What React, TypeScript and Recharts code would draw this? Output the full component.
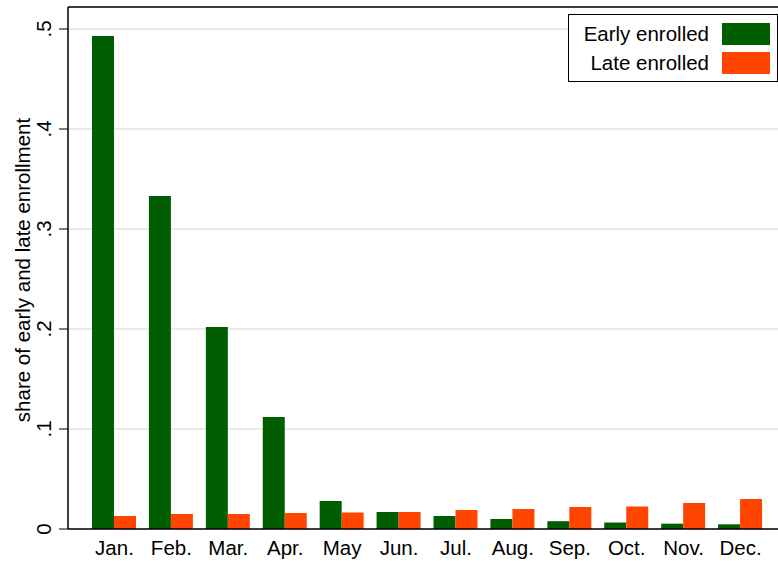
import React from 'react';
import {
  BarChart,
  Bar,
  XAxis,
  YAxis,
  CartesianGrid,
  Legend,
  ReferenceLine,
} from 'recharts';

// ---------------------------------------------------------------------------
// data
// ---------------------------------------------------------------------------
const months = ['Jan.', 'Feb.', 'Mar.', 'Apr.', 'May', 'Jun.', 'Jul.', 'Aug.', 'Sep.', 'Oct.', 'Nov.', 'Dec.'];
const earlyEnrolled = [0.493, 0.333, 0.202, 0.112, 0.028, 0.017, 0.013, 0.01, 0.0078, 0.0065, 0.0053, 0.0047];
const lateEnrolled = [0.013, 0.015, 0.015, 0.016, 0.0165, 0.017, 0.019, 0.02, 0.022, 0.0225, 0.026, 0.03];
const yTicks = [0, 0.1, 0.2, 0.3, 0.4, 0.5];
const yTickLabels = ['0', '.1', '.2', '.3', '.4', '.5'];

const series = [
  { key: 'early', name: 'Early enrolled', color: '#005e00' },
  { key: 'late', name: 'Late enrolled', color: '#ff4500' },
];

const data = months.map((m, i) => ({ month: m, early: earlyEnrolled[i], late: lateEnrolled[i] }));

const FONT = '"Liberation Sans", Arial, Helvetica, sans-serif';
const FS = 20.5;

const YTick = (props: any) => {
  const { y, payload } = props;
  const idx = yTicks.indexOf(payload.value);
  const x = 51;
  return (
    <text
      x={x}
      y={y}
      transform={`rotate(-90, ${x}, ${y})`}
      textAnchor="middle"
      fontSize={FS}
      fontFamily={FONT}
      fill="#000"
    >
      {idx >= 0 ? yTickLabels[idx] : payload.value}
    </text>
  );
};

const XTick = (props: any) => {
  const { x, payload } = props;
  return (
    <text x={x} y={555} textAnchor="middle" fontSize={FS} fontFamily={FONT} fill="#000">
      {payload.value}
    </text>
  );
};

const YLabel = () => (
  <text
    x={30}
    y={270}
    transform="rotate(-90, 30, 270)"
    textAnchor="middle"
    fontSize={FS}
    fontFamily={FONT}
    fill="#000"
  >
    share of early and late enrollment
  </text>
);

const LegendBox = () => (
  <div
    style={{
      width: 208,
      height: 66,
      border: '1px solid #000',
      background: '#fff',
      fontFamily: FONT,
      fontSize: FS,
      boxSizing: 'content-box',
    }}
  >
    {series.map((s, i) => (
      <div
        key={s.key}
        style={{
          display: 'flex',
          justifyContent: 'flex-end',
          alignItems: 'center',
          height: 22,
          marginTop: i === 0 ? 8 : 7,
          paddingRight: 7,
        }}
      >
        <span style={{ marginRight: 13, lineHeight: '22px' }}>{s.name}</span>
        <span style={{ display: 'inline-block', width: 48, height: 22, background: s.color }} />
      </div>
    ))}
  </div>
);

export default function App() {
  return (
    <div style={{ position: 'absolute', left: 0, top: 0, width: 778, height: 561, background: '#fff' }}>
      <BarChart
        width={778}
        height={561}
        data={data}
        margin={{ top: 7, right: 0, bottom: 0, left: 0 }}
        barGap={0}
        barSize={22}
      >
        <CartesianGrid vertical={false} stroke="#e4e4e4" strokeWidth={1.5} />
        <XAxis
          dataKey="month"
          height={32}
          padding={{ left: 18, right: 9 }}
          axisLine={{ stroke: '#000', strokeWidth: 1.5 }}
          tickLine={false}
          tick={<XTick />}
          interval={0}
        />
        <YAxis
          width={68}
          domain={[0, 0.522]}
          ticks={yTicks}
          allowDataOverflow
          axisLine={{ stroke: '#000', strokeWidth: 1.5 }}
          tickLine={{ stroke: '#000' }}
          tickSize={9}
          tick={<YTick />}
          label={<YLabel />}
        />
        <ReferenceLine y={0.522} stroke="#000" strokeWidth={1.5} />
        <Legend
          layout="vertical"
          align="center"
          verticalAlign="middle"
          content={<LegendBox />}
          wrapperStyle={{ position: 'absolute', top: 14, left: 568, width: 210, height: 68 }}
        />
        {series.map((s) => (
          <Bar key={s.key} dataKey={s.key} name={s.name} fill={s.color} isAnimationActive={false} />
        ))}
      </BarChart>
    </div>
  );
}
